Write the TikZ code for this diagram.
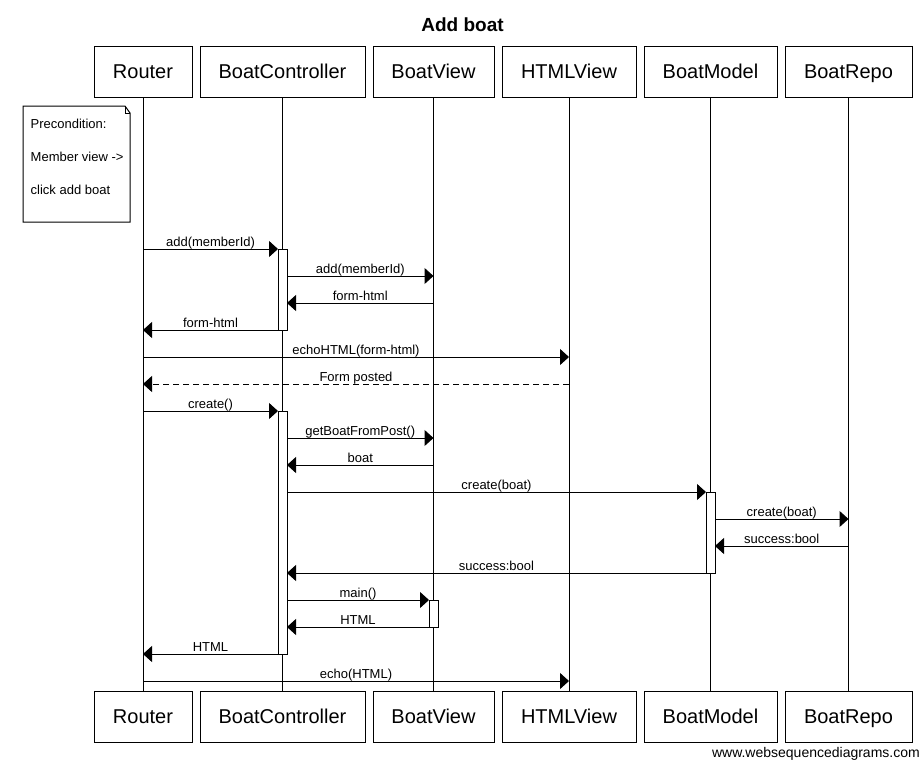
\documentclass[tikz,border=0pt]{standalone}
\usepackage{fontspec}
\setmainfont{Liberation Sans}
\usetikzlibrary{arrows.meta}
\begin{document}
\begin{tikzpicture}[x=1pt,y=-1pt,
  actor/.style={draw, line width=1pt, minimum height=51pt, inner sep=0pt, outer sep=0pt, text height=17.5pt, text depth=4pt, font=\fontsize{20}{24}\selectfont},
  life/.style={line width=1pt},
  actbar/.style={draw, fill=white, line width=1pt, minimum width=9pt, inner sep=0pt, outer sep=0pt, anchor=north},
  msg/.style={line width=1pt, -{Triangle[length=9pt,width=16pt]}},
  ret/.style={msg, dash pattern=on 6pt off 4pt},
  lbl/.style={midway, anchor=base, yshift=3pt, font=\fontsize{13}{15}\selectfont, inner sep=0pt},
  notetext/.style={anchor=base west, font=\fontsize{13}{15}\selectfont, inner sep=0pt},
]
\useasboundingbox[fill=white] (0,0) rectangle (924,764);

% title
\node[anchor=base, font=\bfseries\fontsize{19}{22}\selectfont] (title) at (462.5,31) {Add boat};

% participants top
\node[actor, minimum width=98pt]  (R1)  at (143,71.5)   {Router};
\node[actor, minimum width=165pt] (C1)  at (282.5,71.5) {BoatController};
\node[actor, minimum width=121pt] (V1)  at (433.5,71.5) {BoatView};
\node[actor, minimum width=134pt] (H1)  at (569,71.5)   {HTMLView};
\node[actor, minimum width=133pt] (M1)  at (710.5,71.5) {BoatModel};
\node[actor, minimum width=127pt] (P1)  at (848.5,71.5) {BoatRepo};
% participants bottom
\node[actor, minimum width=98pt]  (R2)  at (143,716.5)   {Router};
\node[actor, minimum width=165pt] (C2)  at (282.5,716.5) {BoatController};
\node[actor, minimum width=121pt] (V2)  at (433.5,716.5) {BoatView};
\node[actor, minimum width=134pt] (H2)  at (569,716.5)   {HTMLView};
\node[actor, minimum width=133pt] (M2)  at (710.5,716.5) {BoatModel};
\node[actor, minimum width=127pt] (P2)  at (848.5,716.5) {BoatRepo};

% lifelines
\draw[life] (R1.south) -- (R2.north);
\draw[life] (C1.south) -- (C2.north);
\draw[life] (V1.south) -- (V2.north);
\draw[life] (H1.south) -- (H2.north);
\draw[life] (M1.south) -- (M2.north);
\draw[life] (P1.south) -- (P2.north);

% note
\draw[line width=1pt, fill=white] (23,106) -- (125,106) -- (130,113) -- (130,222) -- (23,222) -- cycle;
\draw[line width=1pt] (125,106) -- (125,113) -- (130,113);
\node[notetext] (n1) at (30.5,128) {Precondition:};
\node[notetext] (n2) at (30.5,161) {Member view ->};
\node[notetext] (n3) at (30.5,194) {click add boat};

% activation bars
\node[actbar, minimum height=81pt]  (a1) at (282.5,249) {};
\node[actbar, minimum height=243pt] (a2) at (282.5,411) {};
\node[actbar, minimum height=81pt]  (a3) at (710.5,492) {};
\node[actbar, minimum height=27pt]  (a4) at (433.5,600) {};

% messages
\draw[msg] (R1 |- 0,249) -- node[lbl]{add(memberId)} (a1.north west);
\draw[msg] (a1.east |- 0,276) -- node[lbl]{add(memberId)} (V1 |- 0,276);
\draw[msg] (V1 |- 0,303) -- node[lbl]{form-html} (a1.east |- 0,303);
\draw[msg] (a1.south west) -- node[lbl]{form-html} (R1 |- a1.south west);
\draw[msg] (R1 |- 0,357) -- node[lbl]{echoHTML(form-html)} (H1 |- 0,357);
\draw[ret] (H1 |- 0,384) -- node[lbl]{Form posted} (R1 |- 0,384);
\draw[msg] (R1 |- 0,411) -- node[lbl]{create()} (a2.north west);
\draw[msg] (a2.east |- 0,438) -- node[lbl]{getBoatFromPost()} (V1 |- 0,438);
\draw[msg] (V1 |- 0,465) -- node[lbl]{boat} (a2.east |- 0,465);
\draw[msg] (a2.east |- 0,492) -- node[lbl]{create(boat)} (a3.north west);
\draw[msg] (a3.east |- 0,519) -- node[lbl]{create(boat)} (P1 |- 0,519);
\draw[msg] (P1 |- 0,546) -- node[lbl]{success:bool} (a3.east |- 0,546);
\draw[msg] (a3.south west) -- node[lbl]{success:bool} (a2.east |- a3.south west);
\draw[msg] (a2.east |- 0,600) -- node[lbl]{main()} (a4.north west);
\draw[msg] (a4.south west) -- node[lbl]{HTML} (a2.east |- a4.south west);
\draw[msg] (a2.south west) -- node[lbl]{HTML} (R1 |- a2.south west);
\draw[msg] (R1 |- 0,681) -- node[lbl]{echo(HTML)} (H1 |- 0,681);

% footer
\node[anchor=base east, font=\fontsize{14}{16}\selectfont, inner sep=0pt] (foot) at (920,757) {www.websequencediagrams.com};
\end{tikzpicture}
\end{document}
